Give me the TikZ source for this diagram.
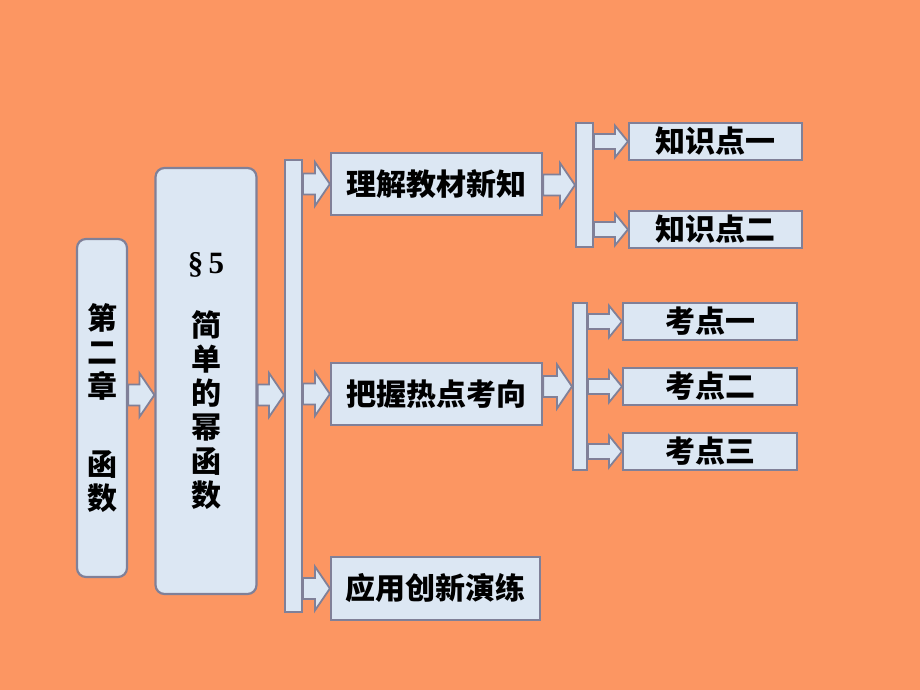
\documentclass[tikz,border=0pt]{standalone}
\usepackage{fontspec}
\setmainfont{Liberation Serif}
\newfontfamily\cjk{Noto Sans CJK SC}
\usetikzlibrary{calc}
\definecolor{bg}{RGB}{252,150,98}
\definecolor{boxfill}{RGB}{220,231,243}
\definecolor{boxline}{RGB}{128,128,152}
\tikzset{
  box/.style={draw=boxline, fill=boxfill, line width=2.2pt, inner sep=0pt,
    font=\cjk\bfseries\fontsize{30}{34}\selectfont, align=center},
  rbox/.style={box, rounded corners=9pt},
  barbox/.style={draw=boxline, fill=boxfill, line width=2pt, inner sep=0pt},
  arrowst/.style={draw=boxline, fill=boxfill, line width=1.8pt, line join=miter},
}
% #1 from, #2 to, #3 shaft half height, #4 head half height, #5 head length
\newcommand\blockarr[5]{%
  \draw[arrowst] let \p1=(#1), \p2=(#2) in
    (\x1,\y1+#3) -- (\x2-#5,\y1+#3) -- (\x2-#5,\y1+#4) -- (\x2,\y1)
    -- (\x2-#5,\y1-#4) -- (\x2-#5,\y1-#3) -- (\x1,\y1-#3) -- cycle;}
\newcommand\bigarr[2]{\blockarr{#1}{#2}{10.5pt}{22pt}{15pt}}
\newcommand\smallarr[2]{\blockarr{#1}{#2}{7.5pt}{16pt}{13pt}}
\begin{document}
\begin{tikzpicture}[x=1pt,y=-1pt]
  \fill[bg] (0,0) rectangle (920,690);
  \useasboundingbox (0,0) rectangle (920,690);

  % left column boxes
  \node[rbox, minimum width=50, minimum height=338] (c1) at (102,408)
    {第\\二\\章\\[44pt]函\\数};
  \node[rbox, minimum width=101, minimum height=426] (c2) at (206,381)
    {{\rmfamily\bfseries\fontsize{31}{34}\selectfont §\,5}\\[29pt]简\\单\\的\\幂\\函\\数};

  % bars
  \node[barbox, minimum width=17, minimum height=452] (b1) at (293.5,386) {};
  \node[barbox, minimum width=17, minimum height=124] (b2) at (584.5,185) {};
  \node[barbox, minimum width=14, minimum height=167] (b3) at (580,386.5) {};

  % middle boxes
  \node[box, minimum width=211, minimum height=62] (m1) at (436.5,184) {理解教材新知};
  \node[box, minimum width=211, minimum height=62] (m2) at (436.5,394) {把握热点考向};
  \node[box, minimum width=209, minimum height=63] (m3) at (435.5,588.5) {应用创新演练};

  % right boxes
  \node[box, minimum width=173, minimum height=37] (k1) at (715.5,141.5) {知识点一};
  \node[box, minimum width=173, minimum height=37] (k2) at (715.5,229.5) {知识点二};
  \node[box, minimum width=174, minimum height=37] (p1) at (710,321.5) {考点一};
  \node[box, minimum width=174, minimum height=37] (p2) at (710,386.5) {考点二};
  \node[box, minimum width=174, minimum height=37] (p3) at (710,451.5) {考点三};

  % arrows
  \path (c1.east) ++(0,-13) coordinate (a1);
  \bigarr{a1}{c2.west |- a1}
  \bigarr{c2.east |- a1}{b1.west |- a1}
  \bigarr{b1.east |- m1.west}{m1.west}
  \bigarr{b1.east |- m2.west}{m2.west}
  \bigarr{b1.east |- m3.west}{m3.west}
  \bigarr{m1.east |- b2.west}{b2.west}
  \bigarr{m2.east |- b3.west}{b3.west}
  \smallarr{b2.east |- k1.west}{k1.west}
  \smallarr{b2.east |- k2.west}{k2.west}
  \smallarr{b3.east |- p1.west}{p1.west}
  \smallarr{b3.east |- p2.west}{p2.west}
  \smallarr{b3.east |- p3.west}{p3.west}
\end{tikzpicture}
\end{document}
